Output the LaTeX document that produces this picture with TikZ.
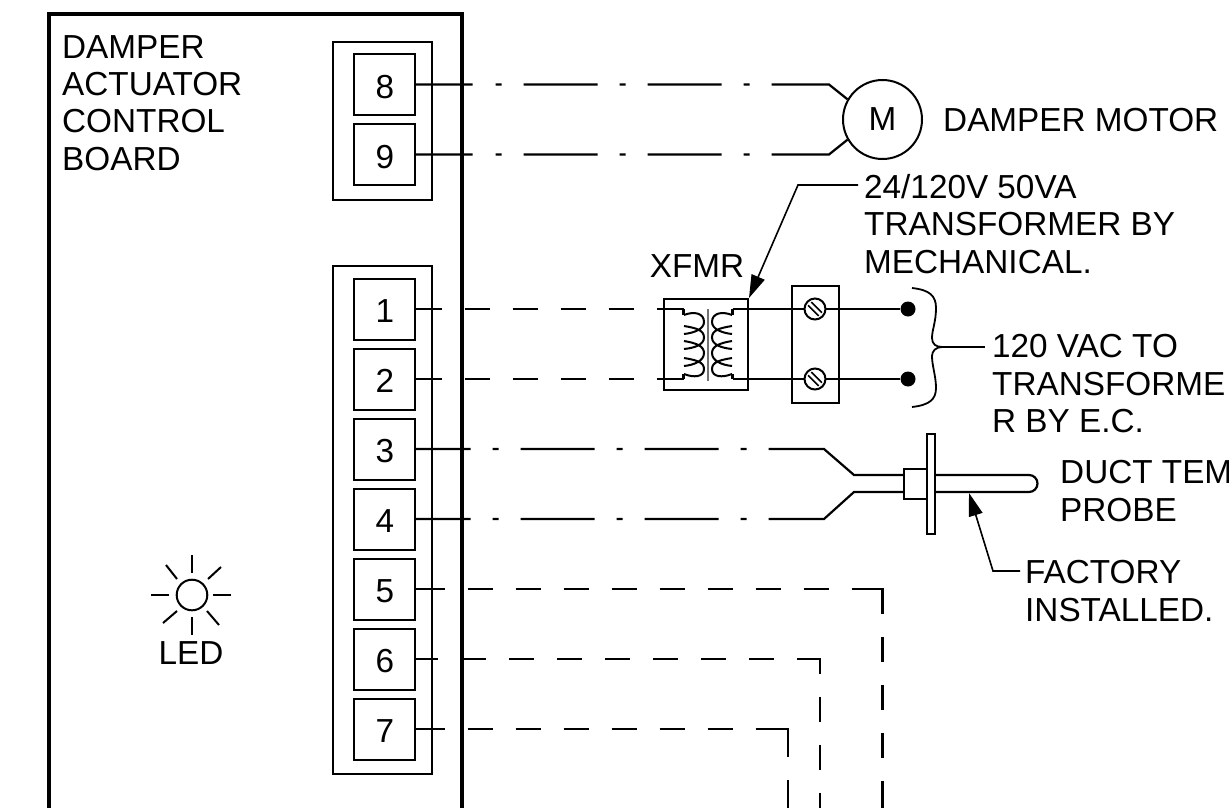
\documentclass[tikz,border=0pt]{standalone}
\usepackage{fontspec}
\setmainfont{Liberation Sans}
\usetikzlibrary{arrows.meta}
\newcommand{\tdigit}[1]{\hspace{2pt}\raisebox{-2pt}[\height][0pt]{#1}}
\tikzset{
  wire/.style={line width=2.2pt,line join=miter},
  terminal/.style={draw,line width=2pt,minimum width=61pt,minimum height=61pt,inner sep=0pt},
  lbl/.style={font=\fontsize{33.3}{37.4}\selectfont,inner sep=0pt,align=left,anchor=north west},
  tnum/.style={font=\fontsize{33.3}{37.4}\selectfont},
  group box/.style={draw,line width=2pt,minimum width=99pt,inner sep=0pt,outer sep=0pt,anchor=north west},
  leader/.style={line width=1.6pt},
  bighead/.style={-{Triangle[length=23pt,width=14pt]}},
  ray/.style={line width=2pt}
}
\begin{document}
\begin{tikzpicture}[x=1pt,y=-1pt]
\useasboundingbox (0,0) rectangle (1229,808);
\clip (0,0) rectangle (1229,808);

% board and terminal groups
\node[draw,line width=4.2pt,minimum width=413pt,minimum height=860pt,inner sep=0pt,outer sep=0pt,anchor=north west] (board) at (49,14) {};
\node[group box,minimum height=158pt] (grpA) at (333,42) {};
\node[group box,minimum height=508pt] (grpB) at (333,266) {};

\node[terminal,tnum] (t8) at (384,84.5) {\tdigit{8}};
\node[terminal,tnum] (t9) at (384,154.5) {\tdigit{9}};
\node[terminal,tnum] (t1) at (384,309) {\tdigit{1}};
\node[terminal,tnum] (t2) at (384,379) {\tdigit{2}};
\node[terminal,tnum] (t3) at (384,449) {\tdigit{3}};
\node[terminal,tnum] (t4) at (384,519) {\tdigit{4}};
\node[terminal,tnum] (t5) at (384,589) {\tdigit{5}};
\node[terminal,tnum] (t6) at (384,659) {\tdigit{6}};
\node[terminal,tnum] (t7) at (384,729) {\tdigit{7}};

% motor
\node[draw,circle,line width=2pt,minimum size=79pt,inner sep=0pt,tnum] (motor) at (882.5,119.5) {M};

% transformer and terminal strip
\node[draw,line width=2pt,minimum width=84pt,minimum height=91pt,inner sep=0pt] (xfmr) at (706,344.5) {};
\node[draw,line width=2pt,minimum width=47pt,minimum height=117pt,inner sep=0pt] (strip) at (815.5,344.5) {};
\coordinate (p1) at (683.5,309);
\coordinate (p2) at (683.5,379);
\coordinate (q1) at (732.5,309);
\coordinate (q2) at (732.5,379);
\node[circle,minimum size=21pt,inner sep=0pt] (s1) at (815,309) {};
\node[circle,minimum size=21pt,inner sep=0pt] (s2) at (815,379) {};
\node[circle,fill=black,minimum size=15pt,inner sep=0pt] (d1) at (908,309) {};
\node[circle,fill=black,minimum size=15pt,inner sep=0pt] (d2) at (908,379) {};
\draw[wire] (q1) -- (s1.center);
\draw[wire] (q2) -- (s2.center);
\draw[wire] (s1.center) -- (d1);
\draw[wire] (s2.center) -- (d2);
\node[draw,circle,line width=2pt,fill=white,minimum size=21pt,inner sep=0pt] (h1) at (815,309) {};
\node[draw,circle,line width=2pt,fill=white,minimum size=21pt,inner sep=0pt] (h2) at (815,379) {};
\foreach \s in {s1,s2}{
  \draw[line width=1.6pt] ([shift={(-3.7,-6.9)}]\s.center) -- ([shift={(6.9,3.7)}]\s.center);
  \draw[line width=1.6pt] ([shift={(-6.9,-3.7)}]\s.center) -- ([shift={(3.7,6.9)}]\s.center);
}

% coils
\foreach \m/\a/\b in {1/684/704,-1/732/712}{
  \draw[line width=2pt] (\a,315)
    .. controls (\a+\m*10,311) and (\b,313) .. (\b,322)
    .. controls (\b,329) and (\a+\m*10,333) .. (\a,334)
    (\a,326) .. controls (\a+\m*12,328) and (\b,330) .. (\b,337.5)
    .. controls (\b,345) and (\a+\m*10,348) .. (\a,349)
    (\a,341) .. controls (\a+\m*12,343) and (\b,346) .. (\b,353)
    .. controls (\b,361) and (\a+\m*10,365) .. (\a,366)
    (\a,358) .. controls (\a+\m*12,360) and (\b,362) .. (\b,369)
    .. controls (\b,377) and (\a+\m*10,378) .. (\a,374);
}
\draw[line width=1.2pt,black!55] (708,309) -- (708,381);
\draw[wire] (p1) -- ++(0,6);
\draw[wire] (p2) -- ++(0,-5);
\draw[wire] (q1) -- ++(0,6);
\draw[wire] (q2) -- ++(0,-5);

% dash-dot wires
\coordinate (m1) at (829,84.5);
\coordinate (m2) at (829,154.5);
\draw[wire,dash pattern=on 57pt off 23pt on 6pt off 22pt on 74pt off 22pt on 6pt off 22pt on 74pt off 22pt on 6pt off 22pt on 500pt] (t8.east) -- (m1) -- (motor.150);
\draw[wire,dash pattern=on 57pt off 23pt on 6pt off 22pt on 74pt off 22pt on 6pt off 22pt on 74pt off 22pt on 6pt off 22pt on 500pt] (t9.east) -- (m2) -- (motor.210);

% dashed wires
\draw[wire,dash pattern=on 26pt off 23pt on 25pt off 23pt on 25pt off 23pt on 25pt off 23pt on 25pt off 23pt on 100pt] (t1.east) -- (p1);
\draw[wire,dash pattern=on 26pt off 23pt on 25pt off 23pt on 25pt off 23pt on 25pt off 23pt on 25pt off 23pt on 100pt] (t2.east) -- (p2);

% probe
\node[draw,line width=2pt,minimum width=23pt,minimum height=30pt,inner sep=0pt] (coup) at (915.5,484) {};
\node[draw,line width=2pt,minimum width=8pt,minimum height=100pt,inner sep=0pt] (flange) at (931,484) {};
\coordinate (c3) at (824,449);
\coordinate (c4) at (824,519);
\coordinate (k3) at (854,475);
\coordinate (k4) at (854,492);
\draw[wire,dash pattern=on 55pt off 22pt on 6pt off 22pt on 74pt off 22pt on 6pt off 22pt on 74pt off 22pt on 6pt off 22pt on 500pt] (t3.east) -- (c3) -- (k3) -- (k3 -| coup.west);
\draw[wire,dash pattern=on 55pt off 22pt on 6pt off 22pt on 74pt off 22pt on 6pt off 22pt on 74pt off 22pt on 6pt off 22pt on 500pt] (t4.east) -- (c4) -- (k4) -- (k4 -| coup.west);
\draw[wire] (k3 -| flange.east) -- (1029,475) .. controls (1034,475) and (1037.5,479) .. (1037.5,483.5) .. controls (1037.5,488) and (1034,492) .. (1029,492) -- (k4 -| flange.east);

\coordinate (e5) at (882.5,820);
\coordinate (e6) at (820,820);
\coordinate (e7) at (788,820);
\draw[wire,dash pattern=on 29pt off 23pt on 25pt off 23pt on 25pt off 23pt on 25pt off 23pt on 25pt off 23pt on 25pt off 23pt on 25pt off 23pt on 25pt off 23pt on 25pt off 23pt on 56pt off 23pt on 25pt off 23pt on 25pt off 23pt on 25pt off 23pt on 40pt] (t5.east) -- (t5.east -| e5) -- (e5);
\draw[wire,dash pattern=on 22pt off 23pt on 25pt off 23pt on 25pt off 23pt on 25pt off 23pt on 25pt off 23pt on 25pt off 23pt on 25pt off 23pt on 25pt off 23pt on 38pt off 23pt on 25pt off 23pt on 25pt off 23pt on 40pt] (t6.east) -- (t6.east -| e6) -- (e6);
\draw[wire,dash pattern=on 29pt off 23pt on 25pt off 23pt on 25pt off 23pt on 25pt off 23pt on 25pt off 23pt on 25pt off 23pt on 25pt off 23pt on 60pt off 23pt on 40pt] (t7.east) -- (t7.east -| e7) -- (e7);

% brace
\draw[line width=1.8pt] (912,288) .. controls (930,290) and (936,296) .. (936,308)
  .. controls (936,322) and (932,330) .. (932,338)
  .. controls (932,344) and (936,347) .. (942,347)
  .. controls (936,347) and (932,351) .. (932,356)
  .. controls (932,366) and (936,376) .. (936,388)
  .. controls (936,399) and (930,405) .. (912,407);
\coordinate (bt) at (942,347);
\coordinate (bl) at (985,347);
\draw[leader] (bt) -- (bl);

% labels
\node[lbl] (boardlbl) at (62,35) {DAMPER\\ACTUATOR\\CONTROL\\BOARD};
\node[lbl,anchor=west] (motorlbl) at (943,120) {DAMPER MOTOR};
\node[lbl] (xfnote) at (864,174) {24/120V 50VA\\TRANSFORMER BY\\MECHANICAL.};
\node[lbl,anchor=base] (xfmrlbl) at (697,277) {XFMR};
\node[lbl] (vac) at (992,334.5) {120 VAC TO\\TRANSFORME\\R BY E.C.};
\node[lbl] (duct) at (1060,460.5) {DUCT TEM\\PROBE};
\node[lbl] (fact) at (1025,560.5) {FACTORY\\INSTALLED.};
\node[lbl,anchor=base] (ledlbl) at (191,664) {LED};

% leaders
\coordinate (ln1) at (858,185);
\coordinate (ln2) at (798,185);
\draw[leader,bighead] (ln1) -- (ln2) -- (xfmr.north east);
\coordinate (pt) at (969,493);
\coordinate (fl1) at (1020,571);
\coordinate (fl2) at (993,571);
\draw[leader,bighead] (fl1) -- (fl2) -- (pt);

% LED
\node[draw,circle,line width=2pt,minimum size=30.6pt,inner sep=0pt] (led) at (192,595) {};
\draw[ray] (192,555) -- (192,573);
\draw[ray] (192,617) -- (192,635);
\draw[ray] (151,595) -- (169,595);
\draw[ray] (213,595) -- (231,595);
\draw[ray] (166,565) -- (177,579);
\draw[ray] (221,567) -- (208,579);
\draw[ray] (163,623) -- (177,611);
\draw[ray] (219,625) -- (207,611);
\end{tikzpicture}
\end{document}
